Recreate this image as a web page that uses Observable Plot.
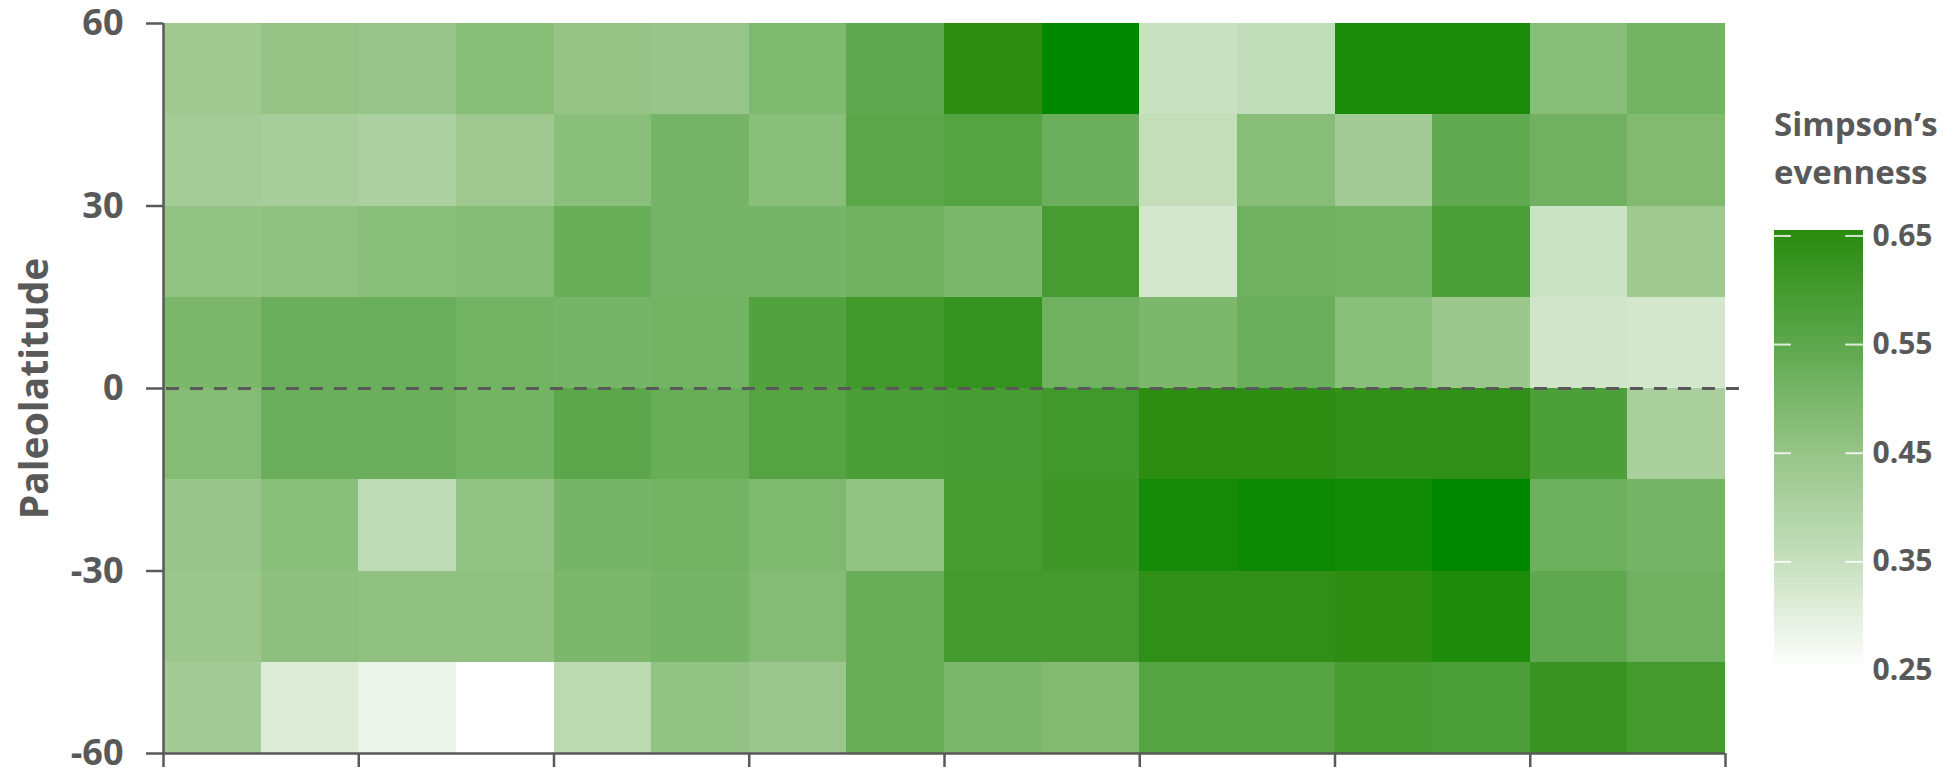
<!DOCTYPE html>
<html>
<head>
<meta charset="utf-8">
<script src="https://cdn.jsdelivr.net/npm/d3@7"></script>
<script src="https://cdn.jsdelivr.net/npm/@observablehq/plot@0.6"></script>
<style>
  html, body { margin: 0; padding: 0; background: #fff; }
  body { width: 1954px; height: 770px; position: relative; overflow: hidden;
         font-family: "Open Sans", sans-serif; color: #595959; }
  #chart { position: absolute; left: 0; top: 0; }
  #legend-title { position: absolute; left: 1774px; top: 100px; font-size: 33px; font-weight: 700;
                  line-height: 48px; color: #595959; white-space: nowrap; }
  #legend-bar { position: absolute; left: 1774px; top: 225px; }
</style>
</head>
<body>
<div id="chart"></div>
<div id="legend-title">Simpson’s<br>evenness</div>
<div id="legend-bar"></div>
<script>
// Simpson's evenness per time bin (16 bins, left to right), one array per 15° paleolatitude band
const band45to60  = [0.43, 0.45, 0.445, 0.475, 0.45, 0.445, 0.49, 0.545, 0.645, 0.70, 0.345, 0.36, 0.67, 0.67, 0.475, 0.51];
const band30to45  = [0.42, 0.415, 0.405, 0.43, 0.47, 0.505, 0.47, 0.555, 0.565, 0.525, 0.355, 0.475, 0.425, 0.54, 0.515, 0.485];
const band15to30  = [0.455, 0.46, 0.47, 0.48, 0.53, 0.505, 0.505, 0.515, 0.495, 0.595, 0.325, 0.515, 0.51, 0.58, 0.34, 0.43];
const band0to15   = [0.495, 0.525, 0.527, 0.51, 0.505, 0.51, 0.57, 0.605, 0.625, 0.515, 0.495, 0.525, 0.47, 0.44, 0.33, 0.325];
const bandM15to0  = [0.48, 0.525, 0.525, 0.51, 0.55, 0.53, 0.565, 0.585, 0.59, 0.605, 0.645, 0.645, 0.635, 0.64, 0.58, 0.41];
const bandM30toM15 = [0.445, 0.47, 0.365, 0.455, 0.505, 0.51, 0.49, 0.455, 0.595, 0.61, 0.675, 0.685, 0.68, 0.70, 0.52, 0.505];
const bandM45toM30 = [0.44, 0.465, 0.46, 0.46, 0.495, 0.505, 0.48, 0.53, 0.60, 0.60, 0.64, 0.64, 0.645, 0.665, 0.545, 0.515];
const bandM60toM45 = [0.425, 0.31, 0.285, 0.25, 0.37, 0.455, 0.44, 0.53, 0.495, 0.485, 0.565, 0.565, 0.595, 0.58, 0.62, 0.60];

// lower edge of each band, matching the arrays above
const bandLower = [45, 30, 15, 0, -15, -30, -45, -60];
const bandValues = [band45to60, band30to45, band15to30, band0to15, bandM15to0, bandM30toM15, bandM45toM30, bandM60toM45];
const bandSize = 15;

const latTicks = [-60, -30, 0, 30, 60];
const binTicks = [0, 2, 4, 6, 8, 10, 12, 14, 16];
const legendTicks = [0.25, 0.35, 0.45, 0.55, 0.65];
const yLabel = "Paleolatitude";

// piecewise colour ramp: white → green
const colorDomain = [0.25, 0.35, 0.45, 0.55, 0.65, 0.70];
const colorRange = ["#ffffff", "#c6dfbd", "#96c487", "#5ca74c", "#2b8c10", "#008800"];

const cells = bandLower.flatMap((lat, r) =>
  bandValues[r].map((v, i) => ({bin: i, lat, value: v})));

const ink = "#595959";
const colorScale = {type: "linear", domain: colorDomain, range: colorRange, interpolate: "rgb", clamp: true};

const chart = Plot.plot({
  width: 1760,
  height: 770,
  marginLeft: 163,
  marginRight: 35,
  marginTop: 23,
  marginBottom: 17,
  style: {fontFamily: "Open Sans", fontWeight: 700, fontSize: "36px", color: ink, background: "transparent", overflow: "visible"},
  x: {domain: [0, 16]},
  y: {domain: [-60, 60]},
  color: colorScale,
  marks: [
    Plot.rect(cells, {
      x1: "bin", x2: d => d.bin + 1,
      y1: "lat", y2: d => d.lat + bandSize,
      fill: "value", inset: 0, shapeRendering: "crispEdges"
    }),
    // equator, running slightly past the last bin
    Plot.ruleY([0], {x1: 0.03, x2: 16.18, stroke: ink, strokeWidth: 3, strokeDasharray: "13,11"}),
    Plot.ruleX([0], {stroke: ink, strokeWidth: 2.5}),
    Plot.ruleY([-60], {stroke: ink, strokeWidth: 2.5}),
    Plot.axisY({ticks: latTicks, tickSize: 17, tickPadding: 23, strokeWidth: 2.5, label: null,
                tickFormat: d => `${d}`, fontSize: 36}),
    Plot.axisX({ticks: binTicks, tickSize: 14, tickFormat: () => "", strokeWidth: 2.5, label: null}),
    Plot.text([yLabel], {frameAnchor: "left", textAnchor: "middle", rotate: -90, dx: -128,
                         fontSize: 39, fontWeight: 700, fill: ink})
  ]
});
document.getElementById("chart").append(chart);

// vertical colour bar for the legend
const step = 0.0025;
const strips = d3.range(0.25, 0.655, step);
const legend = Plot.plot({
  width: 179,
  height: 465,
  marginLeft: 0,
  marginRight: 90,
  marginTop: 5,
  marginBottom: 20,
  style: {fontFamily: "Open Sans", fontWeight: 700, fontSize: "30px", color: ink, background: "transparent", overflow: "visible"},
  x: {domain: [0, 1], axis: null},
  y: {domain: [0.25, 0.655]},
  color: colorScale,
  marks: [
    Plot.rect(strips, {x1: 0, x2: 1, y1: d => d, y2: d => Math.min(d + step, 0.655), fill: d => d, shapeRendering: "crispEdges"}),
    Plot.ruleY(legendTicks, {x1: 0, x2: 0.19, stroke: "white", strokeWidth: 2, strokeOpacity: 0.8}),
    Plot.ruleY(legendTicks, {x1: 0.8, x2: 1, stroke: "white", strokeWidth: 2, strokeOpacity: 0.8}),
    Plot.axisY({anchor: "right", ticks: legendTicks, tickSize: 0, tickPadding: 9, tickFormat: d3.format(".2f"), label: null, fontSize: 30})
  ]
});
document.getElementById("legend-bar").append(legend);
</script>
</body>
</html>
